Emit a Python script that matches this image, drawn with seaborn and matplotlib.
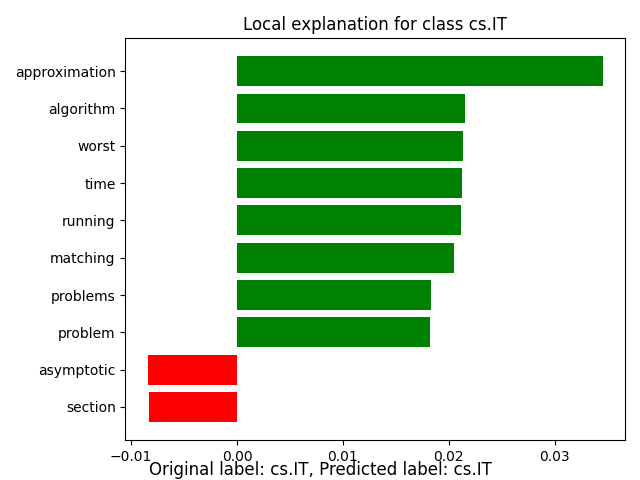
import matplotlib
matplotlib.use("Agg")
import matplotlib.pyplot as plt
import seaborn as sns

# Merkmale und Gewichte (von oben nach unten)
features = ['approximation', 'algorithm', 'worst', 'time', 'running',
            'matching', 'problems', 'problem', 'asymptotic', 'section']
weights = [0.03453, 0.02157, 0.02138, 0.02129, 0.02119,
           0.02053, 0.01835, 0.01826, -0.00839, -0.00832]
bar_colors = ['green' if w > 0 else 'red' for w in weights]

fig, ax = plt.subplots(figsize=(6.4, 4.8))
sns.barplot(x=weights, y=features, hue=features, palette=bar_colors,
            orient='h', width=0.8, saturation=1, legend=False, ax=ax)

n = len(features)
ax.set_ylim(n - 1 + 0.4 + 0.49, -0.4 - 0.49)
ax.margins(x=0.05)
ax.set_xlabel('')
ax.set_ylabel('')
ax.set_title('Local explanation for class cs.IT')
fig.text(0.5, 0.01, 'Original label: cs.IT, Predicted label: cs.IT',
         ha='center', fontsize=12)
fig.subplots_adjust(left=0.196, right=0.977, top=0.921, bottom=0.083)
fig.savefig('out.png', dpi=100)
